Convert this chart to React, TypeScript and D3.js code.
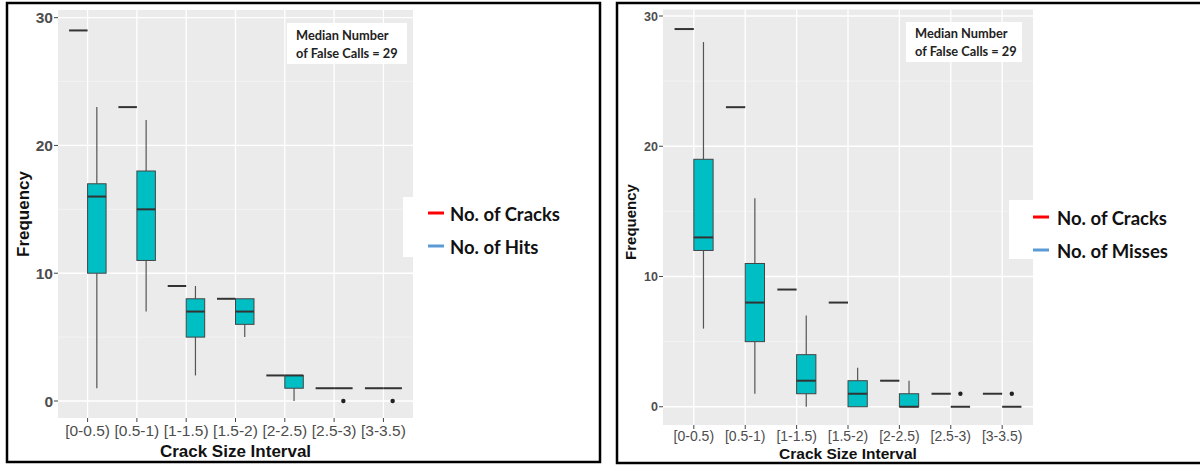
import React from 'react'
import { scaleLinear } from 'd3'

const categories = ['[0-0.5)', '[0.5-1)', '[1-1.5)', '[1.5-2)', '[2-2.5)', '[2.5-3)', '[3-3.5)']
const cracks = [29, 23, 9, 8, 2, 1, 1]

// hits (left panel) box stats
const hitsLo = [1, 7, 2, 5, 0, 1, 1]
const hitsQ1 = [10, 11, 5, 6, 1, 1, 1]
const hitsMed = [16, 15, 7, 7, 2, 1, 1]
const hitsQ3 = [17, 18, 8, 8, 2, 1, 1]
const hitsHi = [23, 22, 9, 8, 2, 1, 1]
const hitsOut = [[], [], [], [], [], [0], [0]]

// misses (right panel) box stats
const missLo = [6, 1, 0, 0, 0, 0, 0]
const missQ1 = [12, 5, 1, 0, 0, 0, 0]
const missMed = [13, 8, 2, 1, 0, 0, 0]
const missQ3 = [19, 11, 4, 2, 1, 0, 0]
const missHi = [28, 16, 7, 3, 2, 0, 0]
const missOut = [[], [], [], [], [], [1], [1]]

const yMajor = [0, 10, 20, 30]
const yMinor = [5, 15, 25]

const TICK_FONT = '"Liberation Sans", Arial, sans-serif'
const NOTE_FONT = 'Lato, "Open Sans", sans-serif'

function Panel(props) {
  const { px0, px1, py0, py1, yDomain, lo, q1, med, q3, hi, outs, tickSize, xTickSize, titleSize,
    xTickY, titleY, yLabX, yLabY, yLabSize, note, legend, seriesLabel } = props

  const x = scaleLinear().domain([-0.6, categories.length - 0.4]).range([px0, px1])
  const y = scaleLinear().domain(yDomain).range([py1, py0])
  const half = 0.375

  return (
    <g>
      <rect x={px0} y={py0} width={px1 - px0} height={py1 - py0} fill="#EBEBEB" />
      {yMinor.map(v => (
        <line key={'mi' + v} x1={px0} x2={px1} y1={y(v)} y2={y(v)} stroke="#F5F5F5" strokeWidth={0.8} />
      ))}
      {yMajor.map(v => (
        <line key={'ma' + v} x1={px0} x2={px1} y1={y(v)} y2={y(v)} stroke="#FFFFFF" strokeWidth={1.3} />
      ))}
      {categories.map((c, i) => (
        <line key={'vx' + i} x1={x(i)} x2={x(i)} y1={py0} y2={py1} stroke="#FFFFFF" strokeWidth={1.3} />
      ))}

      {/* cracks: single value per interval, drawn as flat box */}
      {cracks.map((v, i) => (
        <line key={'cr' + i} x1={x(i - half)} x2={x(i)} y1={y(v)} y2={y(v)} stroke="#333" strokeWidth={2} />
      ))}

      {categories.map((c, i) => {
        const cx = x(i + half / 2)
        const bx0 = x(i)
        const bx1 = x(i + half)
        const flat = q1[i] === q3[i]
        return (
          <g key={'bx' + i}>
            {hi[i] > q3[i] && <line x1={cx} x2={cx} y1={y(q3[i])} y2={y(hi[i])} stroke="#555" strokeWidth={1.2} />}
            {lo[i] < q1[i] && <line x1={cx} x2={cx} y1={y(q1[i])} y2={y(lo[i])} stroke="#555" strokeWidth={1.2} />}
            {!flat && (
              <rect x={bx0} y={y(q3[i])} width={bx1 - bx0} height={y(q1[i]) - y(q3[i])}
                fill="#00BFC4" stroke="#444" strokeWidth={1} />
            )}
            <line x1={bx0} x2={bx1} y1={y(med[i])} y2={y(med[i])} stroke="#333" strokeWidth={2} />
            {outs[i].map((o, k) => (
              <circle key={k} cx={cx} cy={y(o)} r={2.2} fill="#222" />
            ))}
          </g>
        )
      })}

      {/* y axis */}
      {yMajor.map(v => (
        <g key={'yt' + v}>
          <line x1={px0 - 4} x2={px0} y1={y(v)} y2={y(v)} stroke="#444" />
          <text x={px0 - 5} y={y(v)} dy="0.36em" textAnchor="end" fontFamily={TICK_FONT}
            fontSize={tickSize} fontWeight="bold" fill="#4D4D4D">{v}</text>
        </g>
      ))}
      {/* x axis */}
      {categories.map((c, i) => (
        <g key={'xt' + i}>
          <line x1={x(i)} x2={x(i)} y1={py1} y2={py1 + 4} stroke="#444" />
          <text x={x(i)} y={xTickY} textAnchor="middle" fontFamily={TICK_FONT}
            fontSize={xTickSize} fill="#4D4D4D">{c}</text>
        </g>
      ))}
      <text x={(px0 + px1) / 2} y={titleY} textAnchor="middle" fontFamily={TICK_FONT}
        fontSize={titleSize} fontWeight="bold" fill="#111">Crack Size Interval</text>
      <text transform={`translate(${yLabX},${yLabY}) rotate(-90)`} textAnchor="middle" fontFamily={TICK_FONT}
        fontSize={yLabSize} fontWeight="bold" fill="#111">Frequency</text>

      {/* annotation */}
      <rect x={note.x} y={note.y} width={note.w} height={note.h} fill="#fff" />
      <text x={note.tx} y={note.b1} fontFamily={NOTE_FONT} fontSize={note.size} fontWeight="bold" fill="#222">Median Number</text>
      <text x={note.tx} y={note.b2} fontFamily={NOTE_FONT} fontSize={note.size} fontWeight="bold" fill="#222">of False Calls = 29</text>

      {/* legend */}
      <rect x={legend.x} y={legend.y} width={legend.w} height={legend.h} fill="#fff" />
      <line x1={legend.lx} x2={legend.lx + 16} y1={legend.b1 - 8} y2={legend.b1 - 8} stroke="#FF0000" strokeWidth={3} />
      <text x={legend.tx} y={legend.b1} fontFamily={NOTE_FONT} fontSize={legend.size} fontWeight="bold" fill="#111">No. of Cracks</text>
      <line x1={legend.lx} x2={legend.lx + 16} y1={legend.b2 - 8} y2={legend.b2 - 8} stroke="#5B9BD5" strokeWidth={3} />
      <text x={legend.tx} y={legend.b2} fontFamily={NOTE_FONT} fontSize={legend.size} fontWeight="bold" fill="#111">{seriesLabel}</text>
    </g>
  )
}

export default function App() {
  return (
    <svg width={1200} height={465} style={{ position: 'absolute', left: 0, top: 0, background: '#fff' }}>
      <rect x={0} y={0} width={1200} height={465} fill="#fff" />
      <Panel px0={58} px1={413} py0={10} py1={418} yDomain={[-1.33, 30.6]}
        lo={hitsLo} q1={hitsQ1} med={hitsMed} q3={hitsQ3} hi={hitsHi} outs={hitsOut}
        tickSize={15.5} xTickSize={15.5} titleSize={17} xTickY={436} titleY={457}
        yLabX={29} yLabY={214} yLabSize={17}
        note={{ x: 287, y: 23, w: 120, h: 41, tx: 296, b1: 40, b2: 58, size: 12.8 }}
        legend={{ x: 403, y: 197, w: 195, h: 60, lx: 428, tx: 450, b1: 221, b2: 254, size: 18.5 }}
        seriesLabel="No. of Hits" />
      <Panel px0={663} px1={1033} py0={9.5} py1={425} yDomain={[-1.4, 30.5]}
        lo={missLo} q1={missQ1} med={missMed} q3={missQ3} hi={missHi} outs={missOut}
        tickSize={12.5} xTickSize={14} titleSize={15.5} xTickY={441} titleY={459}
        yLabX={636} yLabY={222} yLabSize={15}
        note={{ x: 906, y: 22, w: 116, h: 40, tx: 915, b1: 38, b2: 56, size: 12.8 }}
        legend={{ x: 1009, y: 200, w: 186, h: 59, lx: 1033, tx: 1057, b1: 225, b2: 258, size: 18.5 }}
        seriesLabel="No. of Misses" />
      <rect x={7} y={3} width={593} height={459} fill="none" stroke="#000" strokeWidth={2.5} />
      <rect x={617} y={3} width={620} height={460} fill="none" stroke="#000" strokeWidth={2.5} />
    </svg>
  )
}
